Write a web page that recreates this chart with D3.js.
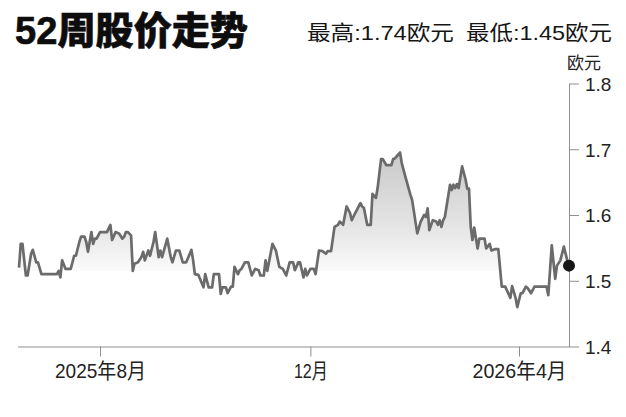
<!DOCTYPE html>
<html>
<head>
<meta charset="utf-8">
<script src="https://cdn.jsdelivr.net/npm/d3@7"></script>
<style>
  html, body { margin: 0; padding: 0; background: #fff; }
  svg { display: block; }
</style>
</head>
<body>
<svg id="chart" width="626" height="417"></svg>
<script>
// ---- data ----
const titleText = "52周股价走势";
const statLabels = ["最高:1.74欧元", "最低:1.45欧元"];
const unitLabel = "欧元";
const startDate = "2025-06-15";
// trading day offsets (days since startDate)
const dayOffsets = [0,1,2,4,5,7,8,10,11,13,16,19,22,23,24,25,27,30,32,33,35,36,38,39,40,42,43,44,45,47,51,53,54,56,58,60,61,62,63,65,66,67,69,71,72,73,75,76,78,79,81,82,83,86,88,89,91,93,95,97,100,101,102,104,107,108,110,112,113,116,117,118,120,121,123,124,125,127,128,129,131,133,135,137,139,140,142,143,144,147,149,151,153,155,157,159,160,162,163,165,166,167,169,171,172,174,176,178,179,181,183,185,186,188,190,192,193,195,198,199,200,202,204,205,207,208,210,211,213,216,217,218,220,221,222,224,227,228,231,233,235,236,237,238,240,242,243,244,245,246,247,250,251,252,253,254,255,257,259,260,261,262,263,264,266,267,270,271,273,274,276,278,280,282,285,286,288,289,291,292,294,295,297,299,302,306,307,309,311,312,314,316,318,319];
const prices = [1.520,1.556,1.556,1.508,1.508,1.541,1.547,1.528,1.528,1.510,1.510,1.510,1.510,1.515,1.505,1.531,1.518,1.518,1.538,1.538,1.559,1.567,1.567,1.559,1.544,1.574,1.556,1.564,1.564,1.574,1.574,1.585,1.562,1.574,1.572,1.564,1.567,1.574,1.574,1.569,1.515,1.526,1.528,1.536,1.544,1.531,1.546,1.538,1.559,1.574,1.536,1.546,1.536,1.564,1.536,1.528,1.546,1.546,1.528,1.528,1.547,1.531,1.510,1.509,1.490,1.510,1.490,1.490,1.510,1.510,1.480,1.490,1.490,1.481,1.491,1.491,1.521,1.510,1.516,1.518,1.528,1.528,1.508,1.518,1.516,1.508,1.508,1.531,1.515,1.556,1.546,1.521,1.518,1.508,1.528,1.528,1.516,1.528,1.528,1.505,1.518,1.508,1.518,1.518,1.510,1.546,1.545,1.541,1.545,1.545,1.582,1.585,1.590,1.585,1.613,1.603,1.592,1.603,1.618,1.613,1.611,1.585,1.585,1.632,1.626,1.641,1.685,1.685,1.676,1.676,1.685,1.686,1.692,1.695,1.679,1.659,1.631,1.623,1.572,1.590,1.600,1.597,1.610,1.577,1.592,1.590,1.585,1.592,1.582,1.592,1.597,1.646,1.638,1.646,1.641,1.647,1.641,1.674,1.654,1.640,1.640,1.582,1.562,1.581,1.549,1.564,1.564,1.549,1.556,1.546,1.548,1.548,1.491,1.491,1.474,1.492,1.474,1.460,1.481,1.481,1.491,1.489,1.481,1.491,1.491,1.491,1.478,1.554,1.503,1.523,1.531,1.552,1.531,1.523];
const yTickValues = [1.4, 1.5, 1.6, 1.7, 1.8];
const yTickLabels = ["1.4", "1.5", "1.6", "1.7", "1.8"];
const xTickDates = ["2025-08-01", "2025-12-01", "2026-04-01"];
const xTickLabels = ["2025年8月", "12月", "2026年4月"];
const areaBaseValue = 1.515;

// ---- build ----
const parse = d3.timeParse("%Y-%m-%d");
const t0 = parse(startDate);
const data = dayOffsets.map((d, i) => ({ date: d3.timeDay.offset(t0, d), value: prices[i] }));

const svg = d3.select("#chart");
const x = d3.scaleTime()
  .domain([t0, d3.timeDay.offset(t0, dayOffsets[dayOffsets.length - 1])])
  .range([19, 569]);
const y = d3.scaleLinear().domain([1.4, 1.8]).range([346.5, 83.5]);

const LATIN = "'Liberation Sans', Arial, 'Noto Sans CJK SC', sans-serif";

// title
svg.append("text")
  .attr("x", 15).attr("y", 44)
  .attr("font-family", LATIN)
  .attr("font-weight", 900)
  .attr("font-size", 38)
  .attr("fill", "#0d0d0d")
  .attr("stroke", "#0d0d0d")
  .attr("stroke-width", 0.6)
  .attr("textLength", 233)
  .attr("lengthAdjust", "spacingAndGlyphs")
  .text(titleText);

// stats
const statPos = [[307, 147], [466, 146]];
statLabels.forEach((s, i) => {
  svg.append("text")
    .attr("x", statPos[i][0]).attr("y", 40)
    .attr("font-family", LATIN)
    .attr("font-size", 21)
    .attr("fill", "#151515")
    .attr("textLength", statPos[i][1])
    .attr("lengthAdjust", "spacingAndGlyphs")
    .text(s);
});

// gradient
const defs = svg.append("defs");
const grad = defs.append("linearGradient")
  .attr("id", "fillGrad")
  .attr("gradientUnits", "userSpaceOnUse")
  .attr("x1", 0).attr("x2", 0)
  .attr("y1", y(1.70)).attr("y2", y(areaBaseValue));
grad.append("stop").attr("offset", 0).attr("stop-color", "#c8c8c8");
grad.append("stop").attr("offset", 0.6).attr("stop-color", "#e3e3e3");
grad.append("stop").attr("offset", 1).attr("stop-color", "#fafafa");

const area = d3.area()
  .x(d => x(d.date))
  .y0(y(areaBaseValue))
  .y1(d => Math.min(y(d.value), y(areaBaseValue)));
svg.append("path").datum(data)
  .attr("d", area)
  .attr("fill", "url(#fillGrad)");

// axes
const xAxis = d3.axisBottom(x)
  .tickValues(xTickDates.map(parse))
  .tickSize(10).tickSizeOuter(0)
  .tickFormat((d, i) => xTickLabels[i]);
const gx = svg.append("g").attr("transform", `translate(0,${y(1.4)})`).call(xAxis);
gx.select(".domain").attr("d", `M18,0.5H569`).attr("stroke", "#8f8f8f");
gx.selectAll(".tick line").attr("stroke", "#8f8f8f");
const xLabelWidths = [91, 34, 94];
gx.selectAll(".tick text")
  .attr("y", 31).attr("dy", 0)
  .attr("font-family", LATIN)
  .attr("font-size", 21)
  .attr("fill", "#222")
  .attr("textLength", (d, i) => xLabelWidths[i])
  .attr("lengthAdjust", "spacingAndGlyphs");

const yAxis = d3.axisRight(y)
  .tickValues(yTickValues)
  .tickSize(10).tickSizeOuter(0).tickPadding(6)
  .tickFormat((d, i) => yTickLabels[i]);
const gy = svg.append("g").attr("transform", `translate(569,0)`).call(yAxis);
gy.select(".domain").attr("stroke", "#8f8f8f");
gy.selectAll(".tick line").attr("stroke", "#8f8f8f");
gy.selectAll(".tick text")
  .attr("font-family", LATIN)
  .attr("font-size", 19)
  .attr("fill", "#222")
  .attr("dy", "0.36em");

svg.append("text")
  .attr("x", 584).attr("y", 69)
  .attr("text-anchor", "middle")
  .attr("font-family", "'Noto Sans CJK SC', sans-serif")
  .attr("font-size", 17)
  .attr("fill", "#222")
  .text(unitLabel);

// line
const line = d3.line().x(d => x(d.date)).y(d => y(d.value));
svg.append("path").datum(data)
  .attr("d", line)
  .attr("fill", "none")
  .attr("stroke", "#6b6b6b")
  .attr("stroke-width", 2.7)
  .attr("stroke-linejoin", "round");

// last point marker
const last = data[data.length - 1];
svg.append("circle")
  .attr("cx", x(last.date)).attr("cy", y(last.value))
  .attr("r", 6)
  .attr("fill", "#161616");
</script>
</body>
</html>
